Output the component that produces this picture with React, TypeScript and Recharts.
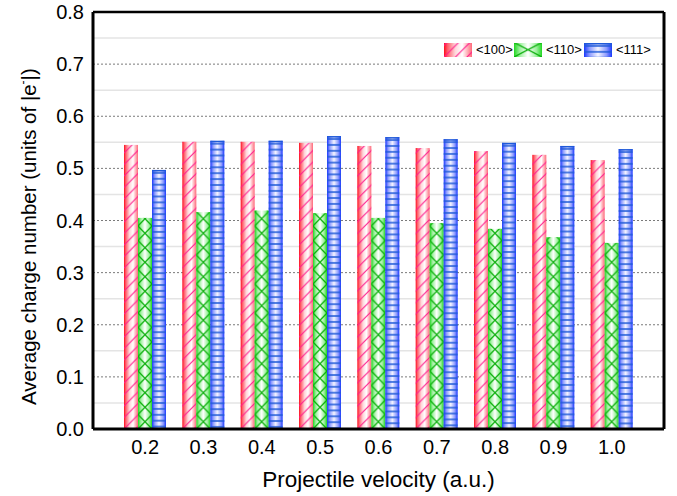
import React from 'react';
import { BarChart, Bar, XAxis, YAxis, CartesianGrid, Legend } from 'recharts';

// projectile velocity (a.u.)
const velocities = ['0.2', '0.3', '0.4', '0.5', '0.6', '0.7', '0.8', '0.9', '1.0'];
// average charge number per channel direction
const dir100 = [0.545, 0.551, 0.551, 0.549, 0.543, 0.539, 0.533, 0.526, 0.516];
const dir110 = [0.405, 0.416, 0.419, 0.414, 0.405, 0.395, 0.384, 0.368, 0.357];
const dir111 = [0.497, 0.553, 0.553, 0.562, 0.560, 0.556, 0.549, 0.543, 0.537];
const seriesNames = ['<100>', '<110>', '<111>'];
const seriesKeys = ['d100', 'd110', 'd111'];

const yTicks = [0, 0.1, 0.2, 0.3, 0.4, 0.5, 0.6, 0.7, 0.8];
const yMinorTicks = [0.05, 0.15, 0.25, 0.35, 0.45, 0.55, 0.65, 0.75];
const yMax = 0.8;

const data = velocities.map((v, i) => ({ v, d100: dir100[i], d110: dir110[i], d111: dir111[i] }));

const FONT = '"Liberation Sans", Arial, sans-serif';

// gradient stops across the bar width, per series
const STOPS: Record<string, [number, string][]> = {
  d100: [[0, '#ff0a1a'], [0.12, '#ff5a68'], [0.4, '#ffd6da'], [0.65, '#ffffff'], [1, '#ff6a7a']],
  d110: [[0, '#22d822'], [0.2, '#9af09a'], [0.5, '#ffffff'], [0.8, '#9af09a'], [1, '#22d822']],
  d111: [[0, '#1a36ff'], [0.2, '#8e9cff'], [0.5, '#f4f4ff'], [0.8, '#8e9cff'], [1, '#1a36ff']],
};

function Hatched({ kind, uid, x, y, width, height }: any) {
  if (!width || height <= 0) return null;
  const gid = `g-${uid}`;
  const pid = `p-${uid}`;
  let pattern: React.ReactNode = null;
  if (kind === 'd100') {
    const s = 11.5;
    pattern = (
      <pattern id={pid} patternUnits="userSpaceOnUse" x={x} y={y + height} width={s} height={s}>
        <path d={`M0,${s} L${s},0 M-1,1 L1,-1 M${s - 1},${s + 1} L${s + 1},${s - 1}`} stroke="#ff1a8c" strokeWidth={1.1} />
      </pattern>
    );
  } else if (kind === 'd110') {
    const s = width;
    pattern = (
      <pattern id={pid} patternUnits="userSpaceOnUse" x={x} y={y + height} width={s} height={14.5}>
        <path d={`M0,0 L${s},14.5 M${s},0 L0,14.5`} stroke="#0cb00c" strokeWidth={1.3} />
      </pattern>
    );
  } else {
    pattern = (
      <pattern id={pid} patternUnits="userSpaceOnUse" x={x} y={y} width={width} height={5.9}>
        <rect x={0} y={2.2} width={width} height={1.5} fill="#1f5ad8" />
      </pattern>
    );
  }
  return (
    <g>
      <defs>
        <linearGradient id={gid} x1="0" y1="0" x2="1" y2="0">
          {STOPS[kind].map(([o, c]) => <stop key={o} offset={o} stopColor={c} />)}
        </linearGradient>
        {pattern}
      </defs>
      <rect x={x} y={y} width={width} height={height} fill={`url(#${gid})`} />
      <rect x={x} y={y} width={width} height={height} fill={`url(#${pid})`} />
      {kind === 'd111' && <rect x={x} y={y} width={width} height={1.5} fill="#1f5ad8" />}
    </g>
  );
}

const makeShape = (kind: string) => (props: any) => (
  <Hatched kind={kind} uid={`${kind}-${props.index}`} x={props.x} y={props.y} width={props.width} height={props.height} />
);

const LegendBox = () => (
  <div style={{ display: 'flex', fontFamily: FONT, fontSize: 13, color: '#000' }}>
    {seriesKeys.map((k, i) => (
      <div key={k} style={{ display: 'flex', alignItems: 'center', width: 70 }}>
        <svg width={28} height={14} style={{ display: 'block' }}>
          <Hatched kind={k} uid={`lg-${k}`} x={0} y={0} width={28} height={14} />
        </svg>
        <span style={{ marginLeft: 4, lineHeight: '14px' }}>{seriesNames[i]}</span>
      </div>
    ))}
  </div>
);

// rotated axis title, starting near the bottom of the plot
const YTitle = () => (
  <text x={36} y={405} transform="rotate(-90, 36, 405)" textAnchor="start" fontFamily={FONT} fontSize={20.5} fill="#000">
    Average charge number (units of |e<tspan fontSize={12} dy={-9}>-</tspan><tspan dy={9}>|)</tspan>
  </text>
);

// light lines at the half-step values
const minorLines = ({ yAxis, offset }: any) =>
  yMinorTicks.map((t) => {
    const sc = yAxis && yAxis.scale;
    if (typeof sc === 'function') return sc(t);
    if (sc && typeof sc.map === 'function') return sc.map(t);
    return offset.top + offset.height * (1 - t / yMax);
  });

export default function App() {
  const axisLine = { stroke: '#000', strokeWidth: 3 };
  const blank = () => '';
  return (
    <div style={{ position: 'absolute', left: 0, top: 0, background: '#fff' }}>
      <BarChart width={677} height={496} data={data} margin={{ top: 12, right: 13, bottom: 37, left: 33 }} barGap={0} barSize={14}>
        <CartesianGrid vertical={false} stroke="#e4e4e4" strokeWidth={1.5} horizontalCoordinatesGenerator={minorLines} />
        <CartesianGrid vertical={false} stroke="#7a7a7a" strokeDasharray="2 2" />
        <XAxis
          dataKey="v"
          height={30}
          padding={{ left: 23, right: 23 }}
          tickLine={false}
          tickSize={0}
          tickMargin={11}
          axisLine={axisLine}
          tick={{ fontSize: 20, fill: '#000', fontFamily: FONT }}
          label={{ value: 'Projectile velocity (a.u.)', position: 'bottom', offset: 12, fontSize: 22.5, fill: '#000', fontFamily: FONT }}
        />
        <XAxis xAxisId="top" dataKey="v" orientation="top" mirror tickLine={false} tick={false} axisLine={{ stroke: '#000', strokeWidth: 2.5 }} padding={{ left: 23, right: 23 }} />
        <YAxis
          width={60}
          domain={[0, yMax]}
          ticks={yTicks}
          tickFormatter={(t: number) => t.toFixed(1)}
          tickLine={false}
          tickSize={0}
          tickMargin={9}
          axisLine={axisLine}
          tick={{ fontSize: 20, fill: '#000', fontFamily: FONT }}
          label={{ content: YTitle }}
        />
        <YAxis yAxisId="majorL" mirror orientation="left" domain={[0, yMax]} ticks={yTicks} tickSize={7} tickFormatter={blank} axisLine={false} tickLine={{ stroke: '#000', strokeWidth: 2 }} />
        <YAxis yAxisId="minorL" mirror orientation="left" domain={[0, yMax]} ticks={yMinorTicks} tickSize={4} tickFormatter={blank} axisLine={false} tickLine={{ stroke: '#000', strokeWidth: 2 }} />
        <YAxis yAxisId="majorR" mirror orientation="right" domain={[0, yMax]} ticks={yTicks} tickSize={7} tickFormatter={blank} axisLine={axisLine} tickLine={{ stroke: '#000', strokeWidth: 2 }} />
        <YAxis yAxisId="minorR" mirror orientation="right" domain={[0, yMax]} ticks={yMinorTicks} tickSize={4} tickFormatter={blank} axisLine={false} tickLine={{ stroke: '#000', strokeWidth: 2 }} />
        <Legend
          layout="horizontal"
          verticalAlign="middle"
          align="center"
          content={LegendBox}
          wrapperStyle={{ top: 43, left: 444, width: 'auto' }}
        />
        <Bar dataKey="d100" name={seriesNames[0]} shape={makeShape('d100')} isAnimationActive={false} />
        <Bar dataKey="d110" name={seriesNames[1]} shape={makeShape('d110')} isAnimationActive={false} />
        <Bar dataKey="d111" name={seriesNames[2]} shape={makeShape('d111')} isAnimationActive={false} />
      </BarChart>
    </div>
  );
}
